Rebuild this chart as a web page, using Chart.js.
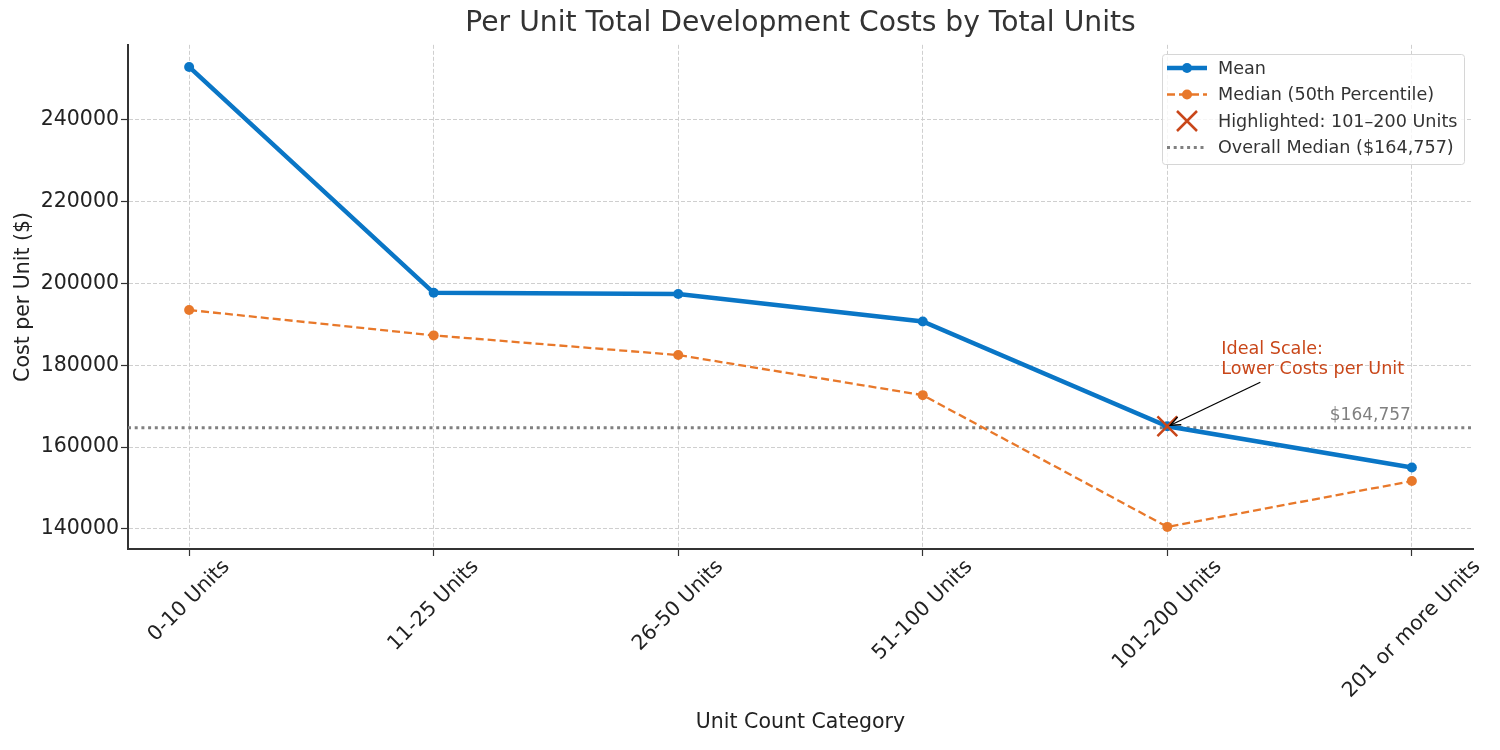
<!DOCTYPE html>
<html>
<head>
<meta charset="utf-8">
<script src="https://cdn.jsdelivr.net/npm/chart.js@4/dist/chart.umd.min.js"></script>
<style>
  html, body { margin: 0; padding: 0; background: #fff; }
  #wrap { width: 1500px; height: 750px; }
</style>
</head>
<body>
<div id="wrap"><canvas id="costChart" width="1500" height="750"></canvas></div>
<script>
const categories = ['0-10 Units', '11-25 Units', '26-50 Units', '51-100 Units', '101-200 Units', '201 or more Units'];
const meanValues = [252900, 197700, 197400, 190700, 165100, 155000];
const medianValues = [193500, 187300, 182500, 172700, 140500, 151700];
const overallMedian = 164757;
const highlightIndex = 4;
const yTicks = [140000, 160000, 180000, 200000, 220000, 240000];

const FONT = "'DejaVu Sans', sans-serif";
const BLUE = '#0a76c6';
const ORANGE = '#e8782a';
const RED = '#c9471a';
const GREY = '#808080';

// rotated category labels, centred under each tick the way matplotlib does it
const xLabelsPlugin = {
    id: 'xLabels',
    afterDraw(chart) {
        const ctx = chart.ctx;
        const xs = chart.scales.x;
        const top = chart.chartArea.bottom + 9;
        ctx.save();
        ctx.font = '20.5px ' + FONT;
        ctx.fillStyle = '#222';
        ctx.textAlign = 'center';
        ctx.textBaseline = 'middle';
        categories.forEach((lab, i) => {
            const w = ctx.measureText(lab).width;
            const half = (w + 16) * Math.SQRT1_2 / 2;
            const x = xs.getPixelForValue(i);
            ctx.save();
            ctx.translate(x, top + half);
            ctx.rotate(-Math.PI / 4);
            ctx.fillText(lab, 0, 0);
            ctx.restore();
        });
        ctx.restore();
    }
};

// overall median label + annotation arrow
const annotatePlugin = {
    id: 'annotate',
    afterDatasetsDraw(chart) {
        const ctx = chart.ctx;
        const xs = chart.scales.x, ys = chart.scales.y;
        ctx.save();
        ctx.font = '17px ' + FONT;
        ctx.fillStyle = GREY;
        ctx.textAlign = 'right';
        ctx.textBaseline = 'alphabetic';
        ctx.fillText('$164,757', xs.getPixelForValue(5) - 1, ys.getPixelForValue(overallMedian) - 8);

        const px = xs.getPixelForValue(highlightIndex);
        const py = ys.getPixelForValue(meanValues[highlightIndex]);
        const tx = px + 93, ty = py - 44;
        const hx = px + 3, hy = py - 1;
        ctx.strokeStyle = '#000';
        ctx.lineWidth = 1.3;
        ctx.beginPath();
        ctx.moveTo(tx, ty);
        ctx.lineTo(hx, hy);
        ctx.stroke();
        const ang = Math.atan2(hy - ty, hx - tx);
        const len = 11;
        ctx.beginPath();
        ctx.moveTo(hx - len * Math.cos(ang - 0.4), hy - len * Math.sin(ang - 0.4));
        ctx.lineTo(hx, hy);
        ctx.lineTo(hx - len * Math.cos(ang + 0.4), hy - len * Math.sin(ang + 0.4));
        ctx.stroke();

        ctx.font = '17.6px ' + FONT;
        ctx.fillStyle = RED;
        ctx.textAlign = 'left';
        ctx.fillText('Ideal Scale:', px + 54, py - 72);
        ctx.fillText('Lower Costs per Unit', px + 54, py - 52);
        ctx.restore();
    }
};

// legend box in the upper right corner
const legendPlugin = {
    id: 'boxLegend',
    afterDraw(chart) {
        const ctx = chart.ctx;
        const x0 = 1162, y0 = 54, w = 302, h = 110;
        ctx.save();
        ctx.fillStyle = 'rgba(255,255,255,0.8)';
        ctx.strokeStyle = '#d6d6d6';
        ctx.lineWidth = 1;
        ctx.beginPath();
        ctx.roundRect(x0 + 0.5, y0 + 0.5, w, h, 3);
        ctx.fill();
        ctx.stroke();

        const rows = [68, 94.5, 121, 147.5];
        const sx1 = 1167, sx2 = 1207, mx = 1187;
        // mean
        ctx.strokeStyle = BLUE; ctx.lineWidth = 4.5; ctx.setLineDash([]);
        ctx.beginPath(); ctx.moveTo(sx1, rows[0]); ctx.lineTo(sx2, rows[0]); ctx.stroke();
        ctx.fillStyle = BLUE;
        ctx.beginPath(); ctx.arc(mx, rows[0], 5, 0, Math.PI * 2); ctx.fill();
        // median
        ctx.strokeStyle = ORANGE; ctx.lineWidth = 2.3; ctx.setLineDash([8, 4]);
        ctx.beginPath(); ctx.moveTo(sx1, rows[1]); ctx.lineTo(sx2, rows[1]); ctx.stroke();
        ctx.setLineDash([]);
        ctx.fillStyle = ORANGE;
        ctx.beginPath(); ctx.arc(mx, rows[1], 5, 0, Math.PI * 2); ctx.fill();
        // highlight
        ctx.strokeStyle = RED; ctx.lineWidth = 2.5;
        ctx.beginPath();
        ctx.moveTo(mx - 10, rows[2] - 10); ctx.lineTo(mx + 10, rows[2] + 10);
        ctx.moveTo(mx + 10, rows[2] - 10); ctx.lineTo(mx - 10, rows[2] + 10);
        ctx.stroke();
        // overall median
        ctx.strokeStyle = GREY; ctx.lineWidth = 3; ctx.setLineDash([3, 3.7]);
        ctx.beginPath(); ctx.moveTo(sx1, rows[3]); ctx.lineTo(sx2, rows[3]); ctx.stroke();
        ctx.setLineDash([]);

        ctx.fillStyle = '#333';
        ctx.font = '17.6px ' + FONT;
        ctx.textAlign = 'left';
        ctx.textBaseline = 'middle';
        const texts = ['Mean', 'Median (50th Percentile)', 'Highlighted: 101\u2013200 Units', 'Overall Median ($164,757)'];
        texts.forEach((t, i) => ctx.fillText(t, 1218, rows[i] + 1));
        ctx.restore();
    }
};

const gridStyle = {
    color: '#cfcfcf',
    lineWidth: 1,
    tickLength: 7,
    tickColor: '#333',
    tickWidth: 1.2,
    tickBorderDash: []
};

new Chart(document.getElementById('costChart'), {
    type: 'line',
    data: {
        datasets: [
            {
                label: 'Highlighted: 101\u2013200 Units',
                type: 'scatter',
                data: [{ x: highlightIndex, y: meanValues[highlightIndex] }],
                pointStyle: 'crossRot',
                pointRadius: 14,
                borderColor: RED,
                backgroundColor: RED,
                borderWidth: 2.5,
                order: 0
            },
            {
                label: 'Mean',
                data: meanValues.map((v, i) => ({ x: i, y: v })),
                borderColor: BLUE,
                backgroundColor: BLUE,
                borderWidth: 4.5,
                pointRadius: 5,
                pointBorderWidth: 0,
                tension: 0,
                order: 1
            },
            {
                label: 'Median (50th Percentile)',
                data: medianValues.map((v, i) => ({ x: i, y: v })),
                borderColor: ORANGE,
                backgroundColor: ORANGE,
                borderWidth: 2.3,
                borderDash: [8, 4],
                pointRadius: 5,
                pointBorderWidth: 0,
                tension: 0,
                order: 2
            },
            {
                label: 'Overall Median ($164,757)',
                data: [{ x: -0.25, y: overallMedian }, { x: 5.25, y: overallMedian }],
                borderColor: GREY,
                borderWidth: 3,
                borderDash: [3, 3.7],
                pointRadius: 0,
                order: 3
            }
        ]
    },
    options: {
        responsive: false,
        animation: false,
        layout: { padding: { left: 0, right: 27, top: 0, bottom: 0 } },
        plugins: {
            legend: { display: false },
            tooltip: { enabled: false },
            title: {
                display: true,
                fullSize: false,
                text: 'Per Unit Total Development Costs by Total Units',
                color: '#333',
                font: { family: FONT, size: 28.2, weight: 'normal' },
                padding: { top: 7, bottom: 4 }
            }
        },
        scales: {
            x: {
                type: 'linear',
                min: -0.25,
                max: 5.25,
                afterBuildTicks: scale => { scale.ticks = categories.map((c, i) => ({ value: i })); },
                afterFit: scale => { scale.height = 201; },
                ticks: { display: false },
                grid: gridStyle,
                border: { display: true, color: '#333', width: 2, dash: [4, 2] },
                title: {
                    display: true,
                    text: 'Unit Count Category',
                    color: '#222',
                    font: { family: FONT, size: 20.5 },
                    padding: { top: 0, bottom: 15 }
                }
            },
            y: {
                min: 135100,
                max: 258300,
                afterBuildTicks: scale => { scale.ticks = yTicks.map(v => ({ value: v })); },
                afterFit: scale => { scale.width = 128; },
                ticks: {
                    color: '#222',
                    font: { family: FONT, size: 20.5 },
                    padding: 2,
                    callback: v => String(v)
                },
                grid: gridStyle,
                border: { display: true, color: '#333', width: 2, dash: [4, 2] },
                title: {
                    display: true,
                    text: 'Cost per Unit ($)',
                    color: '#222',
                    font: { family: FONT, size: 20.5 },
                    padding: { top: 11, bottom: 0 }
                }
            }
        }
    },
    plugins: [xLabelsPlugin, annotatePlugin, legendPlugin]
});
</script>
</body>
</html>
